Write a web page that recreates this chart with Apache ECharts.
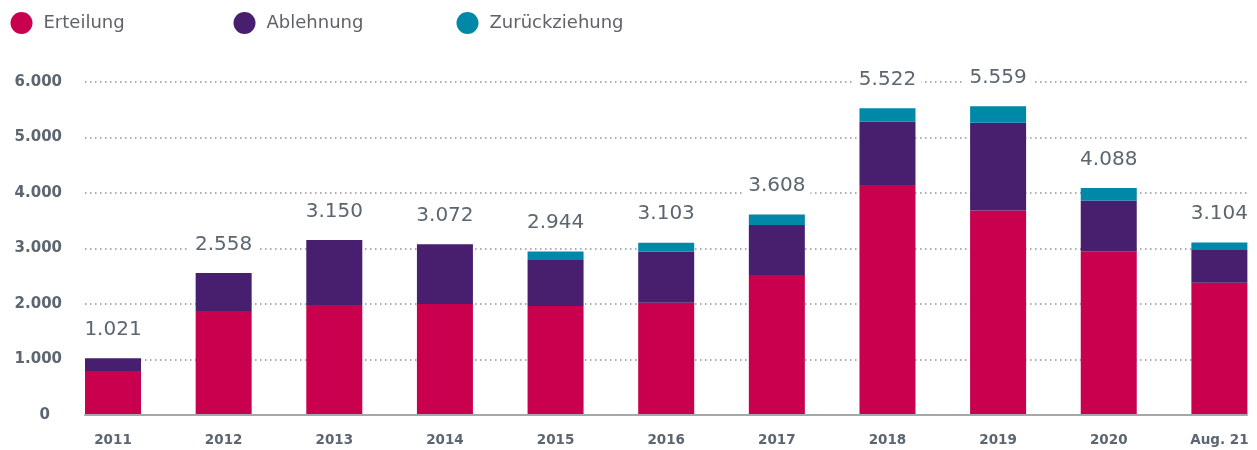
<!DOCTYPE html>
<html><head><meta charset="utf-8">
<script src="https://cdn.jsdelivr.net/npm/echarts@6/dist/echarts.min.js"></script>
<style>html,body{margin:0;padding:0;background:#fff}#c{width:1257px;height:450px}</style>
</head><body><div id="c"></div>
<script>
const categories = ['2011','2012','2013','2014','2015','2016','2017','2018','2019','2020','Aug. 21'];
const erteilung = [790,1870,1980,2000,1960,2020,2520,4140,3680,2950,2380];
const ablehnung = [231,688,1170,1072,830,920,900,1140,1580,910,590];
const zurueck = [0,0,0,0,154,163,188,242,299,228,134];
const totals = [1021,2558,3150,3072,2944,3103,3608,5522,5559,4088,3104];

const FONT = 'DejaVu Sans';
const TXT = '#5b6670';
const fmt = v => String(v).replace(/\B(?=(\d{3})+(?!\d))/g, '.');

const chart = echarts.init(document.getElementById('c'));
const legendBase = {top: 12, padding: 0, itemWidth: 22, itemHeight: 22, icon: 'circle',
  textStyle: {fontFamily: FONT, fontSize: 18, color: '#5f6368', padding: [0,0,0,6]}, selectedMode: false};
chart.setOption({
  animation: false,
  color: ['#c8004e', '#481e6e', '#0088a8'],
  legend: [
    Object.assign({left: 10.5, data: ['Erteilung']}, legendBase),
    Object.assign({left: 233.5, data: ['Ablehnung']}, legendBase),
    Object.assign({left: 456.5, data: ['Zurückziehung']}, legendBase)
  ],
  grid: [
    {left: 57.7, width: 1217, top: 81.7, height: 333.3, outerBoundsMode: 'none', containLabel: false},
    {left: 85, right: 10, top: 81.7, height: 333.3, outerBoundsMode: 'none', containLabel: false}
  ],
  xAxis: [
    {type: 'category', data: categories, gridIndex: 0,
      axisLine: {show: false}, axisTick: {show: false},
      axisLabel: {fontFamily: FONT, fontSize: 13.5, fontWeight: 'bold', color: TXT, margin: 18, interval: 0}},
    {type: 'value', gridIndex: 1, min: 0, max: 1, show: true,
      axisLine: {show: true, onZero: false, lineStyle: {color: '#a5a8ab', width: 2}},
      axisTick: {show: false}, axisLabel: {show: false}, splitLine: {show: false}, z: 10}
  ],
  yAxis: [
    {type: 'value', gridIndex: 0, min: 0, max: 6000, interval: 1000, show: false, splitLine: {show: false}},
    {type: 'value', gridIndex: 1, min: 0, max: 6000, interval: 1000,
      axisLine: {show: false}, axisTick: {show: false},
      axisLabel: {margin: 23, fontFamily: FONT, fontSize: 15, fontWeight: 'bold', color: TXT,
        formatter: v => v === 0 ? '{z|0}' : fmt(v),
        rich: {z: {fontFamily: FONT, fontSize: 15, fontWeight: 'bold', color: TXT, padding: [0,12,0,0]}}},
      splitLine: {show: true, lineStyle: {color: '#8d9296', width: 1.5, type: [1.5, 3.5]}}}
  ],
  series: [
    {name: 'Erteilung', type: 'bar', stack: 't', barWidth: 56, data: erteilung, xAxisIndex: 0, yAxisIndex: 0},
    {name: 'Ablehnung', type: 'bar', stack: 't', barWidth: 56, data: ablehnung, xAxisIndex: 0, yAxisIndex: 0},
    {name: 'Zurückziehung', type: 'bar', stack: 't', barWidth: 56, data: zurueck, xAxisIndex: 0, yAxisIndex: 0},
    {name: 'Summe', type: 'line', data: totals, xAxisIndex: 0, yAxisIndex: 0,
      symbol: 'circle', symbolSize: 1, showSymbol: true,
      itemStyle: {color: 'rgba(0,0,0,0)'},
      lineStyle: {width: 0, color: 'rgba(0,0,0,0)'}, z: 20,
      label: {show: true, position: 'top', distance: 17, fontFamily: FONT, fontSize: 20, color: TXT,
        backgroundColor: '#ffffff', padding: [2, 5, 1, 5],
        formatter: p => fmt(p.value)}}
  ]
});
</script></body></html>
